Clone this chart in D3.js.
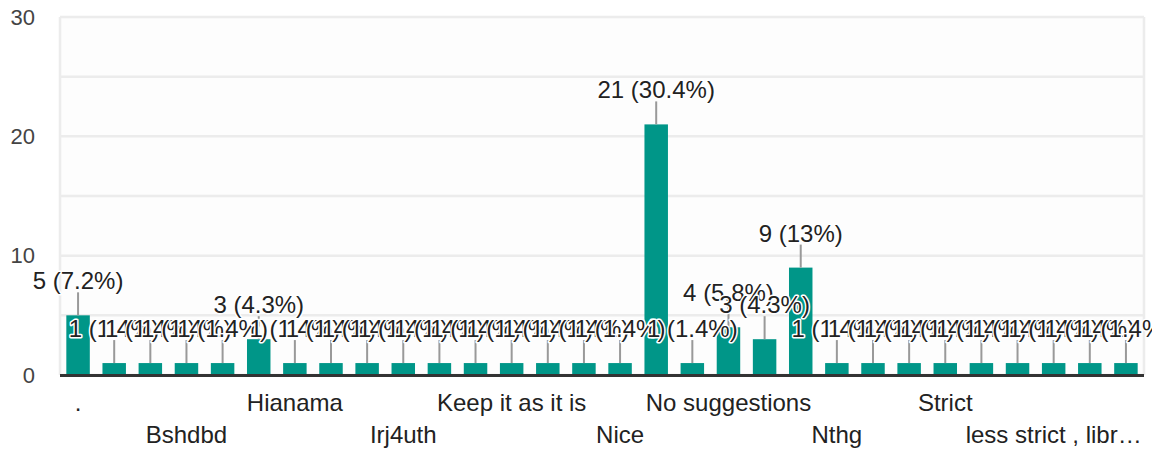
<!DOCTYPE html>
<html>
<head>
<meta charset="utf-8">
<script src="https://cdn.jsdelivr.net/npm/d3@7"></script>
<style>
  html, body { margin: 0; padding: 0; background: #fff; }
  svg { display: block; font-family: "Liberation Sans", Arial, sans-serif; }
</style>
</head>
<body>
<svg id="chart" width="1152" height="452"></svg>
<script>
// ---- data ----
const categories = [
  ".", "", "", "Bshdbd", "", "", "Hianama", "", "", "Irj4uth",
  "", "", "Keep it as it is", "", "", "Nice", "", "", "No suggestions", "",
  "", "Nthg", "", "", "Strict", "", "", "less strict , libr…", "", ""
];
const counts = [
  5, 1, 1, 1, 1, 3, 1, 1, 1, 1,
  1, 1, 1, 1, 1, 1, 21, 1, 4, 3,
  9, 1, 1, 1, 1, 1, 1, 1, 1, 1
];
const yTickLabels = [0, 10, 20, 30];
const yGridValues = [0, 5, 10, 15, 20, 25, 30];

// ---- layout ----
const svg = d3.select("#chart");
const plot = { left: 60, right: 1144, top: 17, bottom: 375 };
const total = d3.sum(counts);
const idx = d3.range(counts.length);

const x = d3.scaleBand()
  .domain(idx)
  .range([plot.left, plot.right])
  .paddingInner(0.35)
  .paddingOuter(0.175);

const y = d3.scaleLinear()
  .domain([0, 30])
  .range([plot.bottom, plot.top]);

// plot background
svg.append("rect")
  .attr("x", plot.left).attr("y", plot.top)
  .attr("width", plot.right - plot.left).attr("height", plot.bottom - plot.top)
  .attr("fill", "#fdfdfd");

// gridlines
svg.append("g").selectAll("line").data(yGridValues).join("line")
  .attr("x1", plot.left).attr("x2", plot.right)
  .attr("y1", d => y(d)).attr("y2", d => y(d))
  .attr("stroke", "#ececec").attr("stroke-width", 2.5);

// vertical borders
svg.append("g").selectAll("line").data([plot.left, plot.right]).join("line")
  .attr("x1", d => d).attr("x2", d => d)
  .attr("y1", plot.top).attr("y2", plot.bottom)
  .attr("stroke", "#ececec").attr("stroke-width", 2.5);

// y axis labels
const yAxis = d3.axisLeft(y).tickValues(yTickLabels).tickSize(0).tickPadding(0);
const yg = svg.append("g").attr("transform", `translate(35,0)`).call(yAxis);
yg.select(".domain").remove();
yg.selectAll("text")
  .attr("font-size", 22)
  .attr("fill", "#444")
  .attr("font-family", "Liberation Sans, Arial, sans-serif");

// bars
svg.append("g").selectAll("rect").data(idx).join("rect")
  .attr("x", i => x(i))
  .attr("y", i => y(counts[i]))
  .attr("width", x.bandwidth())
  .attr("height", i => y(0) - y(counts[i]))
  .attr("fill", "#009688");

// baseline
svg.append("line")
  .attr("x1", plot.left).attr("x2", plot.right)
  .attr("y1", y(0) + 0.5).attr("y2", y(0) + 0.5)
  .attr("stroke", "#333").attr("stroke-width", 3);

// annotations: stems
const cx = i => x(i) + x.bandwidth() / 2;
svg.append("g").selectAll("line").data(idx).join("line")
  .attr("x1", cx).attr("x2", cx)
  .attr("y1", i => y(counts[i]))
  .attr("y2", i => y(counts[i]) - 23)
  .attr("stroke", "#999").attr("stroke-width", 2);

// annotations: text with white halo, drawn in order
const pct = v => +(v / total * 100).toFixed(1);
svg.append("g").selectAll("text").data(idx).join("text")
  .attr("x", cx)
  .attr("y", i => y(counts[i]) - 26)
  .attr("text-anchor", "middle")
  .attr("font-size", 24)
  .attr("fill", "#222")
  .attr("stroke", "#fff")
  .attr("stroke-width", 3)
  .attr("stroke-linejoin", "round")
  .attr("paint-order", "stroke")
  .text(i => `${counts[i]} (${pct(counts[i])}%)`);

// category labels (every 3rd, alternating rows)
const shown = idx.filter(i => i % 3 === 0);
svg.append("g").selectAll("text").data(shown).join("text")
  .attr("x", cx)
  .attr("y", i => (i / 3) % 2 === 0 ? 411 : 443)
  .attr("text-anchor", "middle")
  .attr("font-size", 24)
  .attr("fill", "#222")
  .text(i => categories[i]);
</script>
</body>
</html>
